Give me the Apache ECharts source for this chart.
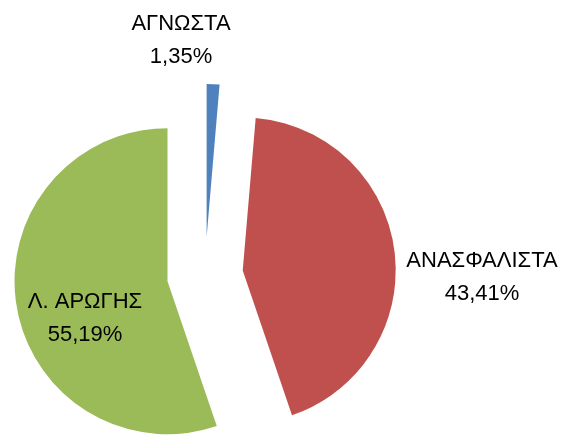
<!DOCTYPE html>
<html>
<head>
<meta charset="utf-8">
<script src="https://cdn.jsdelivr.net/npm/echarts@6/dist/echarts.min.js"></script>
<style>
html,body{margin:0;padding:0;background:#fff;}
#chart{width:568px;height:435px;}
</style>
</head>
<body>
<div id="chart"></div>
<script>
const categories = ['ΑΓΝΩΣΤΑ', 'ΑΝΑΣΦΑΛΙΣΤΑ', 'Λ. ΑΡΩΓΗΣ'];
const values = [1.35, 43.41, 55.19];
const colors = ['#4F81BD', '#C0504D', '#9BBB59'];
const labelSpots = [[181, 40], [482, 277], [85, 318]];

const fmt = v => v.toFixed(2).replace('.', ',') + '%';

const chart = echarts.init(document.getElementById('chart'), null, {renderer: 'canvas'});
chart.setOption({
  animation: false,
  backgroundColor: '#fff',
  graphic: categories.map((c, i) => ({
    type: 'text',
    x: labelSpots[i][0],
    y: labelSpots[i][1],
    z: 100,
    style: {
      text: c + '\n' + fmt(values[i]),
      fontFamily: 'Liberation Sans, Arial, sans-serif',
      fontSize: 22,
      lineHeight: 33,
      fill: '#000',
      align: 'center',
      verticalAlign: 'middle'
    }
  })),
  series: [{
    type: 'pie',
    center: [205, 275],
    radius: 153,
    startAngle: 90,
    clockwise: true,
    selectedMode: 'multiple',
    selectedOffset: 38,
    avoidLabelOverlap: false,
    data: categories.map((c, i) => ({
      name: c, value: values[i], selected: true,
      itemStyle: {color: colors[i]}
    })),
    itemStyle: {borderWidth: 0},
    label: {show: false},
    labelLine: {show: false},
    emphasis: {disabled: true},
    select: {itemStyle: {}}
  }]
});
</script>
</body>
</html>
